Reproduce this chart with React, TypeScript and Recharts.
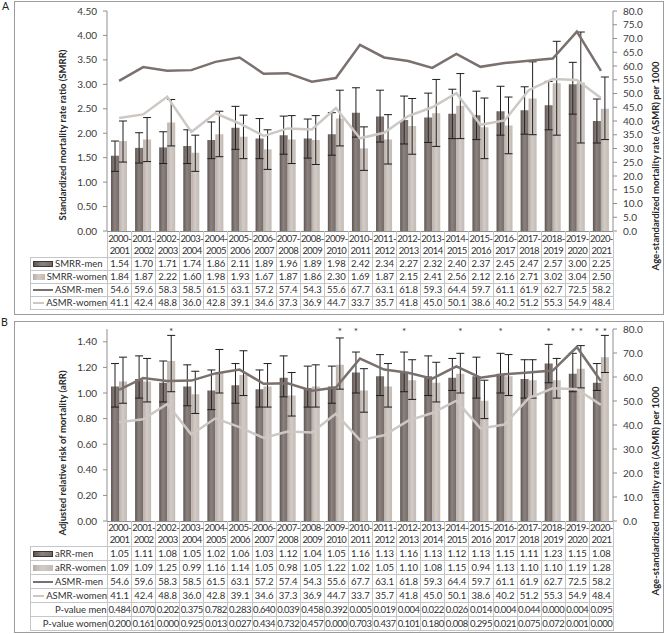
import React from "react";
import { ComposedChart, Bar, Line, XAxis, YAxis, ErrorBar, Label } from "recharts";

const years = [
  "2000-2001", "2001-2002", "2002-2003", "2003-2004", "2004-2005", "2005-2006", "2006-2007",
  "2007-2008", "2008-2009", "2009-2010", "2010-2011", "2011-2012", "2012-2013", "2013-2014",
  "2014-2015", "2015-2016", "2016-2017", "2017-2018", "2018-2019", "2019-2020", "2020-2021",
];

// panel A: standardized mortality rate ratio
const smrrMen = [1.54, 1.70, 1.71, 1.74, 1.86, 2.11, 1.89, 1.96, 1.89, 1.98, 2.42, 2.34, 2.27, 2.32, 2.40, 2.37, 2.45, 2.47, 2.57, 3.00, 2.25];
const smrrMenLo = [1.22, 1.39, 1.38, 1.38, 1.48, 1.67, 1.48, 1.57, 1.49, 1.55, 1.92, 1.82, 1.78, 1.81, 1.89, 1.87, 1.96, 1.98, 2.07, 2.39, 1.80];
const smrrMenHi = [1.84, 2.01, 2.03, 2.07, 2.23, 2.55, 2.30, 2.35, 2.29, 2.42, 2.93, 2.88, 2.76, 2.82, 2.90, 2.86, 2.96, 2.95, 3.06, 3.45, 2.70];
const smrrWomen = [1.84, 1.87, 2.22, 1.60, 1.98, 1.93, 1.67, 1.87, 1.86, 2.30, 1.69, 1.87, 2.15, 2.41, 2.56, 2.12, 2.16, 2.71, 3.02, 3.04, 2.50];
const smrrWomenLo = [1.41, 1.42, 1.74, 1.22, 1.52, 1.48, 1.26, 1.38, 1.36, 1.74, 1.24, 1.37, 1.57, 1.73, 1.89, 1.48, 1.58, 1.97, 1.96, 1.80, 1.87];
const smrrWomenHi = [2.25, 2.32, 2.69, 1.96, 2.45, 2.37, 2.07, 2.36, 2.36, 2.88, 2.13, 2.38, 2.71, 3.10, 3.22, 2.72, 2.74, 3.46, 3.88, 4.07, 3.15];

// age-standardized mortality rate per 1000 (both panels)
const asmrMen = [54.6, 59.6, 58.3, 58.5, 61.5, 63.1, 57.2, 57.4, 54.3, 55.6, 67.7, 63.1, 61.8, 59.3, 64.4, 59.7, 61.1, 61.9, 62.7, 72.5, 58.2];
const asmrWomen = [41.1, 42.4, 48.8, 36.0, 42.8, 39.1, 34.6, 37.3, 36.9, 44.7, 33.7, 35.7, 41.8, 45.0, 50.1, 38.6, 40.2, 51.2, 55.3, 54.9, 48.4];

// panel B: adjusted relative risk
const arrMen = [1.05, 1.11, 1.08, 1.05, 1.02, 1.06, 1.03, 1.12, 1.04, 1.05, 1.16, 1.13, 1.16, 1.13, 1.12, 1.13, 1.15, 1.11, 1.23, 1.15, 1.08];
const arrMenLo = [0.89, 0.96, 0.93, 0.90, 0.87, 0.92, 0.89, 0.97, 0.89, 0.92, 1.00, 0.98, 1.01, 0.98, 1.02, 0.96, 1.00, 0.96, 1.08, 1.01, 1.02];
const arrMenHi = [1.23, 1.29, 1.25, 1.22, 1.18, 1.23, 1.18, 1.29, 1.21, 1.21, 1.32, 1.30, 1.32, 1.29, 1.27, 1.28, 1.31, 1.26, 1.38, 1.31, 1.23];
const arrWomen = [1.09, 1.09, 1.25, 0.99, 1.16, 1.14, 1.05, 0.98, 1.05, 1.22, 1.02, 1.05, 1.10, 1.08, 1.15, 0.94, 1.13, 1.10, 1.10, 1.19, 1.28];
const arrWomenLo = [0.92, 0.93, 1.01, 0.84, 1.00, 0.98, 0.89, 0.82, 0.89, 1.03, 0.85, 0.89, 0.95, 0.93, 1.00, 0.80, 0.98, 0.96, 0.96, 1.04, 1.16];
const arrWomenHi = [1.28, 1.27, 1.45, 1.17, 1.34, 1.33, 1.23, 1.16, 1.22, 1.43, 1.19, 1.23, 1.26, 1.24, 1.31, 1.10, 1.30, 1.26, 1.27, 1.37, 1.45];
const pMen = [0.484, 0.070, 0.202, 0.375, 0.782, 0.283, 0.640, 0.039, 0.458, 0.392, 0.005, 0.019, 0.004, 0.022, 0.026, 0.014, 0.004, 0.044, 0.000, 0.004, 0.095];
const pWomen = [0.200, 0.161, 0.000, 0.925, 0.013, 0.027, 0.434, 0.732, 0.457, 0.000, 0.703, 0.437, 0.101, 0.180, 0.008, 0.295, 0.021, 0.075, 0.072, 0.001, 0.000];
const starsMen = ["", "", "", "", "", "", "", "", "", "", "*", "", "*", "", "", "", "*", "", "*", "*", "*"];
const starsWomen = ["", "", "*", "", "", "", "", "", "", "*", "", "", "", "", "*", "", "", "", "", "*", "*"];

const ticksSmrr = [0, 0.5, 1, 1.5, 2, 2.5, 3, 3.5, 4, 4.5];
const ticksAsmrA = [0, 5, 10, 15, 20, 25, 30, 35, 40, 45, 50, 55, 60, 65, 70, 75, 80];
const ticksArr = [0, 0.2, 0.4, 0.6, 0.8, 1.0, 1.2, 1.4];
const ticksAsmrB = [0, 10, 20, 30, 40, 50, 60, 70, 80];

const FONT = "Lato, 'Open Sans', sans-serif";
const MEN_LINE = "#7a716e";
const WOMEN_LINE = "#cdc8c4";
const AXIS = "#8f8f8f";
const GRID = "#c6c6c6";
const PLOT_LEFT = 107;
const PLOT_RIGHT = 613;
const colW = (PLOT_RIGHT - PLOT_LEFT) / years.length;

const err = (v: number[], lo: number[], hi: number[], i: number) => [v[i] - lo[i], hi[i] - v[i]];

const dataA = years.map((cat, i) => ({
  cat,
  smrrMen: smrrMen[i],
  smrrWomen: smrrWomen[i],
  asmrMen: asmrMen[i],
  asmrWomen: asmrWomen[i],
  menErr: err(smrrMen, smrrMenLo, smrrMenHi, i),
  womenErr: err(smrrWomen, smrrWomenLo, smrrWomenHi, i),
}));

const dataB = years.map((cat, i) => ({
  cat,
  arrMen: arrMen[i],
  arrWomen: arrWomen[i],
  asmrMen: asmrMen[i],
  asmrWomen: asmrWomen[i],
  menErr: err(arrMen, arrMenLo, arrMenHi, i),
  womenErr: err(arrWomen, arrWomenLo, arrWomenHi, i),
}));

const tickStyle = { fontSize: 10, fill: "#3a3a3a", fontFamily: FONT };

function axisTitle(text: string, dx: number, dy: number) {
  return (props: any) => {
    const vb = props.viewBox || { x: 0, y: 0, width: 0, height: 0 };
    const cx = vb.x + dx;
    const cy = vb.y + vb.height / 2 + dy;
    return (
      <text
        x={cx}
        y={cy}
        transform={`rotate(-90 ${cx} ${cy})`}
        textAnchor="middle"
        dominantBaseline="central"
        fontSize={9.5}
        fontWeight={700}
        fill="#262626"
        fontFamily={FONT}
      >
        {text}
      </text>
    );
  };
}

function starLabel(marks: string[]) {
  return (p: any) => {
    const m = marks[p.index];
    if (!m) return null;
    return (
      <text key={`s${p.index}`} x={p.x + p.width / 2} y={14} textAnchor="middle" fontSize={10} fill="#333" fontFamily={FONT}>
        {m}
      </text>
    );
  };
}

function Gradients() {
  return (
    <defs>
      <linearGradient id="gMen" x1="0" y1="0" x2="1" y2="0">
        <stop offset="0%" stopColor="#5f5653" />
        <stop offset="45%" stopColor="#8c8380" />
        <stop offset="100%" stopColor="#756c68" />
      </linearGradient>
      <linearGradient id="gWomen" x1="0" y1="0" x2="1" y2="0">
        <stop offset="0%" stopColor="#b8aea8" />
        <stop offset="45%" stopColor="#d3cbc6" />
        <stop offset="100%" stopColor="#c3bab4" />
      </linearGradient>
    </defs>
  );
}

type Row = { label: string; swatch?: "barMen" | "barWomen" | "lineMen" | "lineWomen"; values: string[] };

function Swatch({ kind }: { kind?: Row["swatch"] }) {
  if (!kind) return <span style={{ display: "inline-block", width: 20, marginRight: 2 }} />;
  if (kind === "barMen" || kind === "barWomen") {
    const bg = kind === "barMen"
      ? "linear-gradient(to right, #5f5653, #8c8380 45%, #756c68)"
      : "linear-gradient(to right, #b8aea8, #d3cbc6 45%, #c3bab4)";
    return (
      <span style={{ display: "inline-block", width: 20, height: 6, background: bg, border: kind === "barMen" ? "1px solid #3d3532" : "none", marginRight: 2, boxSizing: "border-box" }} />
    );
  }
  return (
    <span style={{ display: "inline-block", width: 20, height: 2, background: kind === "lineMen" ? MEN_LINE : WOMEN_LINE, marginRight: 2 }} />
  );
}

function DataTable({ top, headerH, rowH, rows }: { top: number; headerH: number; rowH: number; rows: Row[] }) {
  const cell: React.CSSProperties = {
    border: `1px solid ${GRID}`,
    padding: 0,
    textAlign: "center",
    whiteSpace: "nowrap",
    overflow: "visible",
    fontSize: 9.5,
    lineHeight: "10px",
    color: "#2f2f2f",
  };
  return (
    <table
      style={{
        position: "absolute",
        left: 30,
        top,
        width: PLOT_RIGHT - 30,
        tableLayout: "fixed",
        borderCollapse: "collapse",
        fontFamily: FONT,
      }}
    >
      <colgroup>
        <col style={{ width: PLOT_LEFT - 30 }} />
        {years.map((y) => (
          <col key={y} style={{ width: colW }} />
        ))}
      </colgroup>
      <tbody>
        <tr style={{ height: headerH }}>
          <td style={{ padding: 0, border: "none" }} />
          {years.map((y) => {
            const [a, b] = y.split("-");
            return (
              <td key={y} style={{ ...cell, borderTop: `1px solid ${AXIS}`, lineHeight: "12px", fontSize: 9.5, letterSpacing: -0.55 }}>
                {a}-
                <br />
                {b}
              </td>
            );
          })}
        </tr>
        {rows.map((r) => (
          <tr key={r.label} style={{ height: rowH }}>
            <td style={{ ...cell, textAlign: "left", paddingLeft: 2 }}>
              <span style={{ display: "flex", alignItems: "center" }}>
                <Swatch kind={r.swatch} />
                <span>{r.label}</span>
              </span>
            </td>
            {r.values.map((v, i) => (
              <td key={i} style={{ ...cell, letterSpacing: v.length > 4 ? -0.45 : 0 }}>
                {v}
              </td>
            ))}
          </tr>
        ))}
      </tbody>
    </table>
  );
}

const f2 = (a: number[]) => a.map((v) => v.toFixed(2));
const f1 = (a: number[]) => a.map((v) => v.toFixed(1));
const f3 = (a: number[]) => a.map((v) => v.toFixed(3));

const rowsA: Row[] = [
  { label: "SMRR-men", swatch: "barMen", values: f2(smrrMen) },
  { label: "SMRR-women", swatch: "barWomen", values: f2(smrrWomen) },
  { label: "ASMR-men", swatch: "lineMen", values: f1(asmrMen) },
  { label: "ASMR-women", swatch: "lineWomen", values: f1(asmrWomen) },
];

const rowsB: Row[] = [
  { label: "aRR-men", swatch: "barMen", values: f2(arrMen) },
  { label: "aRR-women", swatch: "barWomen", values: f2(arrWomen) },
  { label: "ASMR-men", swatch: "lineMen", values: f1(asmrMen) },
  { label: "ASMR-women", swatch: "lineWomen", values: f1(asmrWomen) },
  { label: "P-value men", values: f3(pMen) },
  { label: "P-value women", values: f3(pWomen) },
];

function Box({ top, height }: { top: number; height: number }) {
  return (
    <div
      style={{
        position: "absolute",
        left: 14,
        top,
        width: 650,
        height,
        border: "1.5px solid #9c9c9c",
        boxSizing: "border-box",
      }}
    />
  );
}

export default function App() {
  return (
    <div style={{ position: "absolute", left: 0, top: 0, width: 666, height: 634, background: "#fff", fontFamily: FONT }}>
      <Box top={1} height={314} />
      <Box top={321} height={312} />
      <div style={{ position: "absolute", left: 2, top: 0, fontSize: 10.5, color: "#222" }}>A</div>
      <div style={{ position: "absolute", left: 1, top: 316, fontSize: 10.5, color: "#222" }}>B</div>

      <div style={{ position: "absolute", left: 0, top: 0 }}>
        <ComposedChart width={666} height={315} data={dataA} margin={{ top: 11, right: 0, bottom: 84, left: 0 }} barGap={0} barCategoryGap="16%">
          <Gradients />
          <XAxis dataKey="cat" hide />
          <YAxis
            yAxisId="left"
            width={PLOT_LEFT}
            domain={[0, 4.5]}
            ticks={ticksSmrr}
            interval={0}
            tickFormatter={(v: number) => v.toFixed(2)}
            tick={tickStyle}
            axisLine={{ stroke: AXIS }}
            tickLine={{ stroke: AXIS }}
            tickSize={4}
            tickMargin={6}
          >
            <Label content={axisTitle("Standardized mortality rate ratio (SMRR)", 62, 14)} />
          </YAxis>
          <YAxis
            yAxisId="right"
            orientation="right"
            width={666 - PLOT_RIGHT}
            domain={[0, 80]}
            ticks={ticksAsmrA}
            interval={0}
            tickFormatter={(v: number) => v.toFixed(1)}
            tick={tickStyle}
            axisLine={{ stroke: AXIS }}
            tickLine={{ stroke: AXIS }}
            tickSize={4}
            tickMargin={6}
          >
            <Label content={axisTitle("Age-standardized mortality rate (ASMR)  per 1000", 42, 45)} />
          </YAxis>
          <Bar yAxisId="left" dataKey="smrrMen" fill="url(#gMen)" barSize={8} isAnimationActive={false}>
            <ErrorBar dataKey="menErr" width={4} stroke="#1e1e1e" strokeWidth={1} direction="y" isAnimationActive={false} />
          </Bar>
          <Bar yAxisId="left" dataKey="smrrWomen" fill="url(#gWomen)" barSize={8} isAnimationActive={false}>
            <ErrorBar dataKey="womenErr" width={4} stroke="#1e1e1e" strokeWidth={1} direction="y" isAnimationActive={false} />
          </Bar>
          <Line yAxisId="right" dataKey="asmrMen" stroke={MEN_LINE} strokeWidth={2.5} dot={false} isAnimationActive={false} />
          <Line yAxisId="right" dataKey="asmrWomen" stroke={WOMEN_LINE} strokeWidth={2.5} dot={false} isAnimationActive={false} />
        </ComposedChart>
      </div>
      <DataTable top={231} headerH={26} rowH={13} rows={rowsA} />

      <div style={{ position: "absolute", left: 0, top: 321 }}>
        <ComposedChart width={666} height={312} data={dataB} margin={{ top: 8, right: 0, bottom: 112, left: 0 }} barGap={0} barCategoryGap="16%">
          <Gradients />
          <XAxis dataKey="cat" hide />
          <YAxis
            yAxisId="left"
            width={PLOT_LEFT}
            domain={[0, 1.5]}
            ticks={ticksArr}
            interval={0}
            tickFormatter={(v: number) => v.toFixed(2)}
            tick={tickStyle}
            axisLine={{ stroke: AXIS }}
            tickLine={{ stroke: AXIS }}
            tickSize={4}
            tickMargin={6}
          >
            <Label content={axisTitle("Adjusted relative risk of mortality (aRR)", 62, 28)} />
          </YAxis>
          <YAxis
            yAxisId="right"
            orientation="right"
            width={666 - PLOT_RIGHT}
            domain={[0, 80]}
            ticks={ticksAsmrB}
            interval={0}
            tickFormatter={(v: number) => v.toFixed(1)}
            tick={tickStyle}
            axisLine={{ stroke: AXIS }}
            tickLine={{ stroke: AXIS }}
            tickSize={4}
            tickMargin={6}
          >
            <Label content={axisTitle("Age-standardized mortality rate (ASMR) per 1000", 42, 66)} />
          </YAxis>
          <Bar yAxisId="left" dataKey="arrMen" fill="url(#gMen)" barSize={8} isAnimationActive={false} label={starLabel(starsMen)}>
            <ErrorBar dataKey="menErr" width={4} stroke="#1e1e1e" strokeWidth={1} direction="y" isAnimationActive={false} />
          </Bar>
          <Bar yAxisId="left" dataKey="arrWomen" fill="url(#gWomen)" barSize={8} isAnimationActive={false} label={starLabel(starsWomen)}>
            <ErrorBar dataKey="womenErr" width={4} stroke="#1e1e1e" strokeWidth={1} direction="y" isAnimationActive={false} />
          </Bar>
          <Line yAxisId="right" dataKey="asmrMen" stroke={MEN_LINE} strokeWidth={2.5} dot={false} isAnimationActive={false} />
          <Line yAxisId="right" dataKey="asmrWomen" stroke={WOMEN_LINE} strokeWidth={2.5} dot={false} isAnimationActive={false} />
        </ComposedChart>
      </div>
      <DataTable top={521} headerH={24} rowH={14} rows={rowsB} />
    </div>
  );
}
